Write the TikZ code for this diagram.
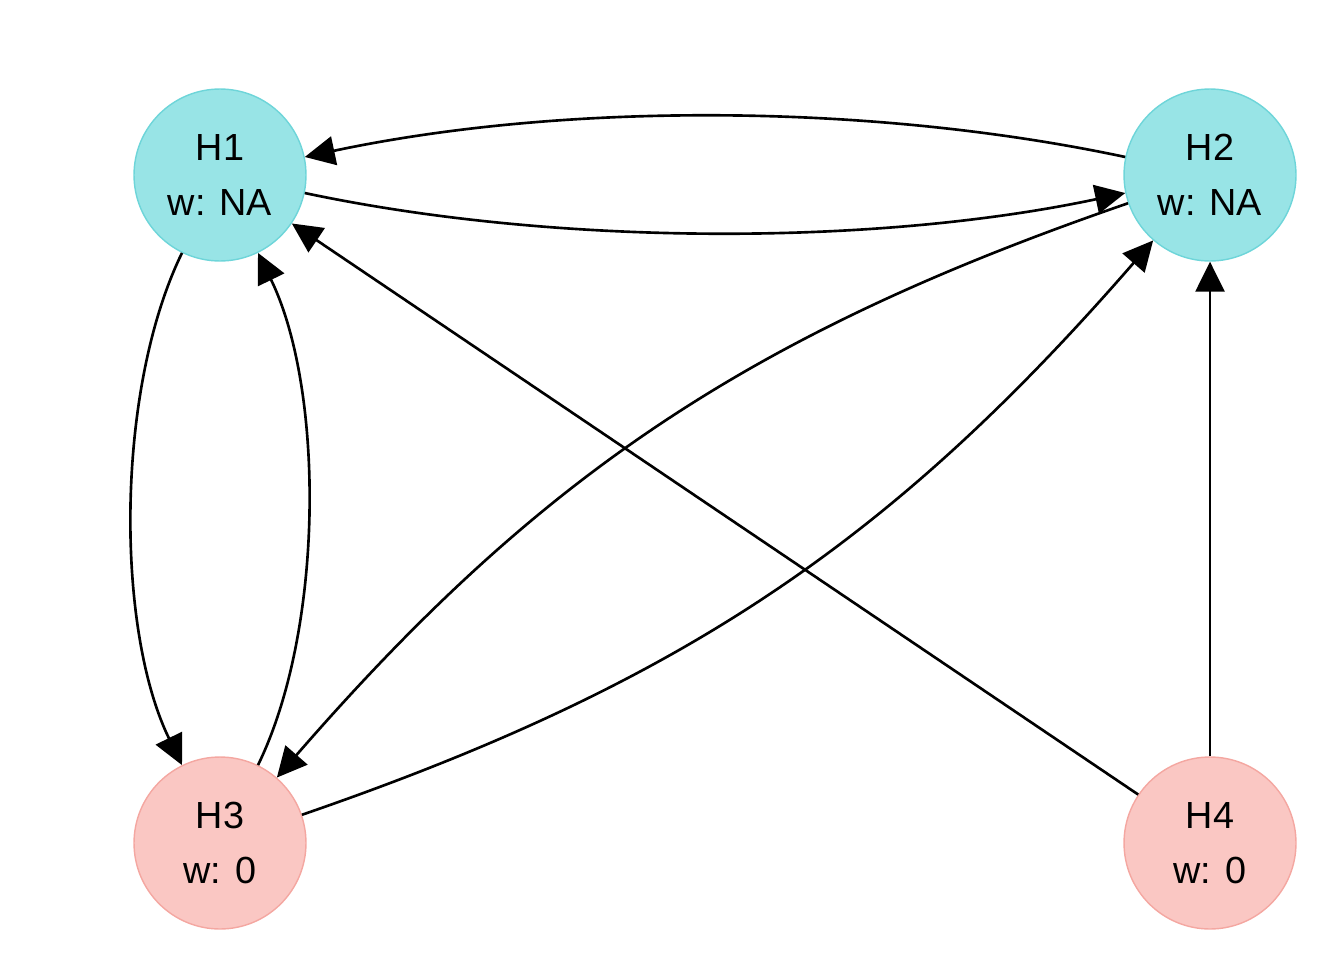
\documentclass[tikz,border=0pt]{standalone}
\usepackage{fontspec}
\setmainfont{Liberation Sans}
\usetikzlibrary{arrows.meta}
\definecolor{hypblue}{HTML}{98E4E6}
\definecolor{hypblueline}{HTML}{6ED5D9}
\definecolor{hyppink}{HTML}{FAC7C3}
\definecolor{hyppinkline}{HTML}{F4A7A1}
\begin{document}
\begin{tikzpicture}[x=0.02cm,y=-0.02cm,
    hyp/.style={circle,minimum size=3.44cm,inner sep=0pt,line width=0.8pt,
      align=center,font=\fontsize{21.5}{31}\selectfont},
    open/.style={hyp,fill=hypblue,draw=hypblueline},
    zero/.style={hyp,fill=hyppink,draw=hyppinkline},
    link/.style={line width=1.5pt,-{Triangle[length=0.6cm,width=0.58cm]}}]
    \useasboundingbox (0,0) rectangle (1344,960);

    % Hypotheses
    \node[open] (h1) at (220,175) {H1\\w: NA};
    \node[open] (h2) at (1210,175) {H2\\w: NA};
    \node[zero] (h3) at (220,843) {H3\\w: 0};
    \node[zero] (h4) at (1210,843) {H4\\w: 0};

    % Transitions between H1 and H2
    \draw[link] (h2) to[bend right=12,looseness=0.82] (h1);
    \draw[link] (h1) to[bend right=12,looseness=0.8] (h2);

    % Transitions between H1 and H3
    \draw[link] (h1) to[bend right=26,looseness=0.76] (h3);
    \draw[link] (h3) to[bend right=26,looseness=0.76] (h1);

    % Transitions between H2 and H3
    \draw[link] (h2) to[bend right=15] (h3);
    \draw[link] (h3) to[bend right=15] (h2);

    % Transitions from H4
    \draw[link] (h4) -- (h1);
    \draw[link] (h4) -- (h2);
\end{tikzpicture}
\end{document}
